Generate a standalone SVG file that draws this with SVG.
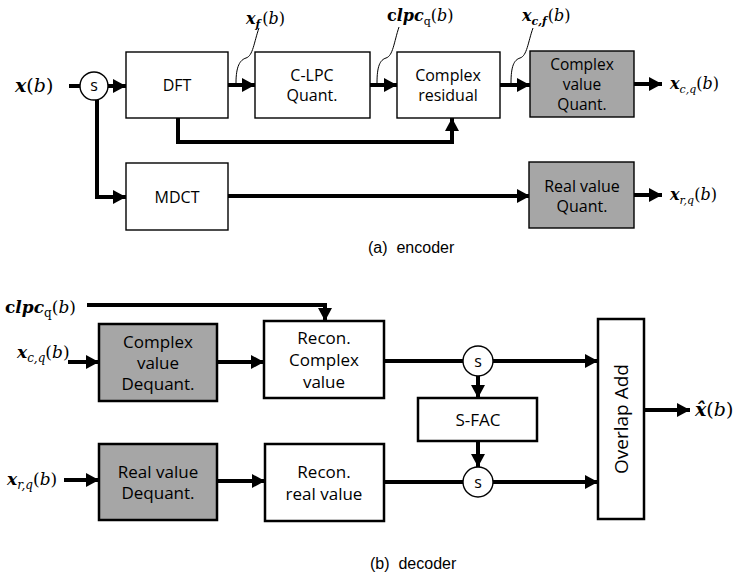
<svg xmlns="http://www.w3.org/2000/svg" width="741" height="578" viewBox="0 0 741 578">
<style>
.box{fill:#fff;stroke:#000;stroke-width:1.4}
.boxg{fill:#a6a6a6;stroke:#000;stroke-width:1.4}
.dbox{fill:#fff;stroke:#000;stroke-width:2.5}
.dboxg{fill:#a6a6a6;stroke:#000;stroke-width:2.5}
.lbl{font-family:"Open Sans","Noto Sans",sans-serif;font-size:16px;text-anchor:middle;fill:#000}
.dlbl{font-family:"Open Sans","Noto Sans",sans-serif;font-size:17px;text-anchor:middle;fill:#000}
.cap{font-family:"Liberation Sans",Arial,sans-serif;font-size:16px;fill:#000}
.m{font-family:"DejaVu Serif","Liberation Serif",serif;font-size:17px;fill:#000}
.bi{font-weight:bold;font-style:italic}
.it{font-style:italic}
.b{font-weight:bold}
.w{fill:none;stroke:#000;stroke-width:4}
.lead{fill:none;stroke:#000;stroke-width:1}
.circ{fill:#fff;stroke:#000;stroke-width:1.4}
.sl{font-family:"Open Sans","Noto Sans",sans-serif;font-size:16px;text-anchor:middle}
</style>
<defs>
<marker id="ah" markerUnits="userSpaceOnUse" markerWidth="14" markerHeight="14" refX="13" refY="7" orient="auto">
<path d="M0,0 L13,7 L0,14 z" fill="#000"/>
</marker>
</defs>
<rect width="741" height="578" fill="#fff"/>

<g id="connectors">
<path class="w" d="M69,86 H80"/>
<path class="w" d="M108,86 H126" marker-end="url(#ah)"/>
<path class="w" d="M228,85 H255" marker-end="url(#ah)"/>
<path class="w" d="M370,85 H397" marker-end="url(#ah)"/>
<path class="w" d="M500,85 H530" marker-end="url(#ah)"/>
<path class="w" d="M634,84 H662" marker-end="url(#ah)"/>
<path class="w" d="M178,118 V142 H452 V118" marker-end="url(#ah)"/>
<path class="w" d="M97,99 V197 H126" marker-end="url(#ah)"/>
<path class="w" d="M228,196 H530" marker-end="url(#ah)"/>
<path class="w" d="M634,195 H662" marker-end="url(#ah)"/>
<path class="lead" d="M236,83 C236,66 240,60 246,58 C253,56 254,42 259,28"/>
<path class="lead" d="M377,83 C377,66 380,60 386,58 C393,56 394,42 399,27"/>
<path class="lead" d="M511,83 C511,66 514,60 520,58 C527,56 528,42 533,28"/>
<path class="w" d="M87,305 H325 V321" marker-end="url(#ah)"/>
<path class="w" d="M68,362 H99" marker-end="url(#ah)"/>
<path class="w" d="M217,362 H264" marker-end="url(#ah)"/>
<path class="w" d="M64,480 H99" marker-end="url(#ah)"/>
<path class="w" d="M217,481 H265" marker-end="url(#ah)"/>
<path class="w" d="M384,361 H463"/>
<path class="w" d="M493,361 H598" marker-end="url(#ah)"/>
<path class="w" d="M478,376 V398" marker-end="url(#ah)"/>
<path class="w" d="M478,441 V467" marker-end="url(#ah)"/>
<path class="w" d="M384,482 H463"/>
<path class="w" d="M493,482 H598" marker-end="url(#ah)"/>
<path class="w" d="M644,410 H690" marker-end="url(#ah)"/>
</g>

<g id="s_enc"><circle class="circ" cx="94" cy="86" r="14"/><text class="sl" x="94" y="91">s</text></g>
<g id="dft"><rect class="box" x="126" y="52" width="102" height="66"/><text class="lbl" x="177" y="91">DFT</text></g>
<g id="clpc"><rect class="box" x="255" y="52" width="115" height="66"/><text class="lbl" x="312" y="81">C-LPC</text><text class="lbl" x="312" y="101">Quant.</text></g>
<g id="cres"><rect class="box" x="397" y="52" width="103" height="66"/><text class="lbl" x="448" y="81">Complex</text><text class="lbl" x="448" y="101">residual</text></g>
<g id="cvq"><rect class="boxg" x="530" y="51" width="104" height="66"/><text class="lbl" x="582" y="70" style="font-size:15.5px">Complex</text><text class="lbl" x="582" y="90" style="font-size:15.5px">value</text><text class="lbl" x="582" y="110" style="font-size:15.5px">Quant.</text></g>
<g id="mdct"><rect class="box" x="126" y="163" width="102" height="67"/><text class="lbl" x="177" y="203">MDCT</text></g>
<g id="rvq"><rect class="boxg" x="529" y="162" width="105" height="66"/><text class="lbl" x="582" y="192">Real value</text><text class="lbl" x="582" y="212">Quant.</text></g>

<g id="enc_labels">
<text class="m" x="15" y="92" style="font-size:19px"><tspan class="bi">x</tspan>(<tspan class="it">b</tspan>)</text>
<text class="m" x="246" y="24" style="font-size:16px"><tspan class="bi">x</tspan><tspan class="bi" dy="4" style="font-size:11px">f</tspan><tspan dx="2" dy="-4">(</tspan><tspan class="it">b</tspan>)</text>
<text class="m" x="387" y="21" style="font-size:16px"><tspan class="b">c</tspan><tspan class="bi">lpc</tspan><tspan dy="4" style="font-size:11px">q</tspan><tspan dy="-4">(</tspan><tspan class="it">b</tspan>)</text>
<text class="m" x="522" y="21" style="font-size:16px"><tspan class="bi">x</tspan><tspan class="bi" dy="4" style="font-size:11px">c,f</tspan><tspan dx="1" dy="-4">(</tspan><tspan class="it">b</tspan>)</text>
<text class="m" x="670" y="89" style="font-size:16px"><tspan class="bi">x</tspan><tspan class="it" dy="4" style="font-size:11px">c,q</tspan><tspan dy="-4">(</tspan><tspan class="it">b</tspan>)</text>
<text class="m" x="670" y="200" style="font-size:16px"><tspan class="bi">x</tspan><tspan class="it" dy="4" style="font-size:11px">r,q</tspan><tspan dy="-4">(</tspan><tspan class="it">b</tspan>)</text>
<text class="cap" x="368" y="253" xml:space="preserve">(a)  encoder</text>
</g>

<g id="cvdq"><rect class="dboxg" x="99" y="324" width="118" height="77"/><text class="dlbl" x="158" y="348">Complex</text><text class="dlbl" x="158" y="369">value</text><text class="dlbl" x="158" y="390">Dequant.</text></g>
<g id="rcv"><rect class="dbox" x="264" y="321" width="120" height="77"/><text class="dlbl" x="324" y="344">Recon.</text><text class="dlbl" x="324" y="366">Complex</text><text class="dlbl" x="324" y="388">value</text></g>
<g id="rvdq"><rect class="dboxg" x="99" y="444" width="118" height="76"/><text class="dlbl" x="158" y="478">Real value</text><text class="dlbl" x="158" y="499">Dequant.</text></g>
<g id="rrv"><rect class="dbox" x="265" y="444" width="119" height="77"/><text class="dlbl" x="324" y="478">Recon.</text><text class="dlbl" x="324" y="500">real value</text></g>
<g id="s1"><circle class="circ" cx="478" cy="361" r="15"/><text class="sl" x="478" y="367">s</text></g>
<g id="sfac"><rect class="dbox" x="418" y="398" width="119" height="43"/><text class="dlbl" x="478" y="426">S-FAC</text></g>
<g id="s2"><circle class="circ" cx="478" cy="482" r="15"/><text class="sl" x="478" y="488">s</text></g>
<g id="ola"><rect class="dbox" x="598" y="319" width="46" height="200"/><text class="dlbl" transform="translate(628,419) rotate(-90)" x="0" y="0" style="font-size:19px">Overlap Add</text></g>

<g id="dec_labels">
<text class="m" x="5" y="313" style="font-size:17px"><tspan class="b">c</tspan><tspan class="bi">lpc</tspan><tspan dy="4" style="font-size:12px">q</tspan><tspan dy="-4">(</tspan><tspan class="it">b</tspan>)</text>
<text class="m" x="17" y="358" style="font-size:17px"><tspan class="bi">x</tspan><tspan class="it" dy="4" style="font-size:12px">c,q</tspan><tspan dy="-4">(</tspan><tspan class="it">b</tspan>)</text>
<text class="m" x="7" y="485" style="font-size:17px"><tspan class="bi">x</tspan><tspan class="it" dy="4" style="font-size:12px">r,q</tspan><tspan dy="-4">(</tspan><tspan class="it">b</tspan>)</text>
<text class="m" x="695" y="416" style="font-size:19px"><tspan class="bi">x̂</tspan>(<tspan class="it">b</tspan>)</text>
<text class="cap" x="370" y="569" xml:space="preserve">(b)  decoder</text>
</g>
</svg>
